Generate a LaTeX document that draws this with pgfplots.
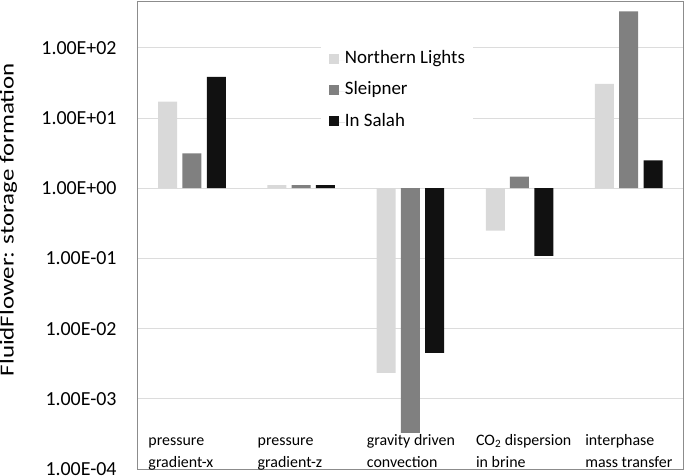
\documentclass[border=0pt]{standalone}
\usepackage{pgfplots}
\pgfplotsset{compat=1.18}
\usepackage{fontspec}
\setmainfont{Carlito}
\usepackage{graphicx}
\definecolor{cNL}{HTML}{D9D9D9}
\definecolor{cSL}{HTML}{808080}
\definecolor{cIS}{HTML}{111111}
\definecolor{cGrid}{HTML}{DCDCDC}
\definecolor{cFrame}{HTML}{8C8C8C}
\pgfplotsset{
  sqlegend/.style={legend image code/.code={
    \fill[##1] (0bp,-3.5bp) rectangle (10bp,6.5bp);
    \path (0bp,0bp) -- (16bp,0bp);}}
}
\begin{document}
\begin{tikzpicture}
\path[use as bounding box] (-137.3bp,-7bp) rectangle (547.7bp,469bp);
\begin{axis}[
  at={(0,0)}, anchor=south west,
  scale only axis, width=546bp, height=468bp,
  ymode=log, ymin=1e-4, ymax=465,
  xmin=-0.5, xmax=4.5,
  ybar, bar width=19bp,
  axis line style={cFrame, line width=0.8bp},
  ymajorgrids, grid style={cGrid, line width=0.8bp},
  major tick length=0pt, minor tick length=0pt,
  ytick={1e-4,1e-3,1e-2,1e-1,1,10,100},
  yticklabels={1.00E-04,1.00E-03,1.00E-02,1.00E-01,1.00E+00,1.00E+01,1.00E+02},
  yticklabel style={font=\fontsize{20}{24}\selectfont, anchor=east, inner sep=0pt, xshift=-20.5bp},
  xtick={0,1,2,3,4},
  xticklabels={{pressure\\gradient-x\strut},{pressure\\gradient-z\strut},{gravity driven\\convection\strut},{CO\textsubscript{2} dispersion\\in brine\strut},{interphase\\mass transfer\strut}},
  xticklabel style={font=\fontsize{16}{22}\selectfont, align=left, anchor=south west, inner sep=0pt, xshift=-43.6bp, yshift=-5.1bp},
  ylabel={\scalebox{1.25}[1]{FluidFlower: storage formation}},
  every axis y label/.style={at={(-0.2359,0.533)}, rotate=90, anchor=center, font=\fontsize{20}{24}\selectfont},
  legend style={draw=none, fill=white, at={(0.3359,0.9252)}, anchor=north west,
    inner xsep=8bp, inner ysep=15bp, row sep=13.2bp,
    font=\fontsize{19}{23}\selectfont,
    nodes={inner sep=0pt, text height=12.5bp, text depth=5.5bp}},
  legend cell align=left,
]
\addplot[fill=cNL, draw=none, bar shift=-24.2bp, sqlegend] coordinates {(0,17.1) (1,1.11) (2,2.34e-3) (3,0.249) (4,30.6)};
\addplot[fill=cSL, draw=none, bar shift=0bp, sqlegend] coordinates {(0,3.15) (1,1.11) (2,3.26e-4) (3,1.46) (4,332)};
\addplot[fill=cIS, draw=none, bar shift=24.4bp, sqlegend] coordinates {(0,38.5) (1,1.11) (2,4.52e-3) (3,0.109) (4,2.5)};
\legend{Northern Lights, Sleipner, In Salah}
\end{axis}
\end{tikzpicture}
\end{document}
